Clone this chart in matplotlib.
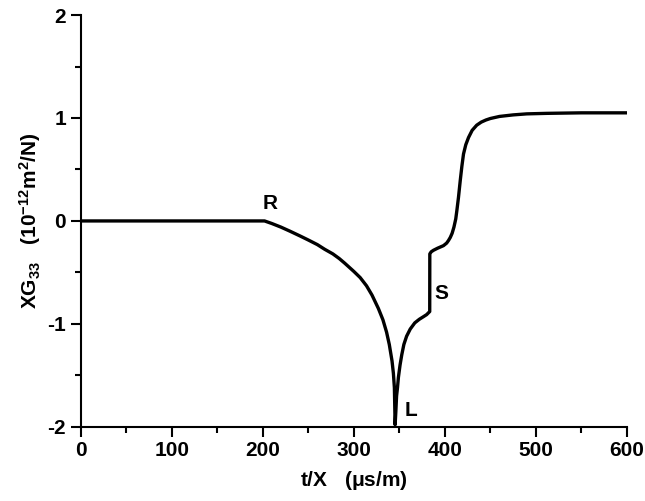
import numpy as np
import matplotlib
matplotlib.use("Agg")
import matplotlib.pyplot as plt
from matplotlib.ticker import MultipleLocator

plt.rcParams['font.family'] = ['Liberation Sans', 'DejaVu Sans']
plt.rcParams['font.weight'] = 'bold'
plt.rcParams['mathtext.fontset'] = 'custom'
plt.rcParams['mathtext.rm'] = 'Liberation Sans:bold'
plt.rcParams['mathtext.bf'] = 'Liberation Sans:bold'
plt.rcParams['mathtext.default'] = 'bf'
plt.rcParams['axes.unicode_minus'] = False

# values
t_x = [0, 100, 202, 210, 220, 230, 241, 250, 260, 268, 277, 284, 290, 295, 300, 307, 314,
       320, 327, 332, 336, 339, 342, 343.5, 344.6, 345.4,
       346.2, 347, 348, 349, 350.8, 352.7, 355, 358, 362, 367, 372, 376.5, 380, 383.4,
       383.5, 385, 387.5, 392, 398.5, 402, 404, 406, 408, 410, 412, 413.2, 415,
       416.9, 418.7, 420.5, 423, 426, 430, 435, 440, 445, 450,
       460, 475, 490, 512, 550, 600]
xg33 = [0, 0, 0, -0.025, -0.06, -0.1, -0.146, -0.185, -0.23, -0.275, -0.32, -0.365, -0.41,
        -0.45, -0.49, -0.55, -0.63, -0.72, -0.85, -0.96, -1.08, -1.2, -1.36, -1.48, -1.62, -1.98,
        -1.85, -1.7, -1.62, -1.52, -1.4, -1.3, -1.2, -1.12, -1.05, -0.99, -0.955, -0.93, -0.91, -0.88,
        -0.32, -0.3, -0.285, -0.265, -0.24, -0.215, -0.19, -0.16, -0.12, -0.06, 0.02, 0.1, 0.23,
        0.39, 0.53, 0.65, 0.74, 0.81, 0.88, 0.93, 0.96, 0.98, 0.995,
        1.015, 1.03, 1.04, 1.045, 1.05, 1.05]

labels = ['R', 'S', 'L']
label_x = [208, 396, 363]
label_y = [0.17, -0.70, -1.84]

fig = plt.figure(figsize=(6.45, 5.01), dpi=100)
ax = fig.add_axes([0.125, 0.148, 0.847, 0.822])
ax.plot(t_x, xg33, color='black', lw=2.4, solid_joinstyle='round')

for lab, lx, ly in zip(labels, label_x, label_y):
    ax.text(lx, ly, lab, fontsize=15, fontweight='bold', ha='center', va='center')

ax.set_xlim(0, 600)
ax.set_ylim(-2, 2)
ax.xaxis.set_major_locator(MultipleLocator(100))
ax.xaxis.set_minor_locator(MultipleLocator(50))
ax.yaxis.set_major_locator(MultipleLocator(1))
ax.yaxis.set_minor_locator(MultipleLocator(0.5))
ax.tick_params(which='major', direction='out', length=7, width=1.5, labelsize=15)
ax.tick_params(which='minor', direction='out', length=4, width=1.5)
for lbl in ax.get_xticklabels() + ax.get_yticklabels():
    lbl.set_fontweight('bold')
for side in ['top', 'right']:
    ax.spines[side].set_visible(False)
for side in ['left', 'bottom']:
    ax.spines[side].set_linewidth(1.5)

ax.set_xlabel(r't/X   ($\mu$s/m)', fontsize=15, fontweight='bold', labelpad=6)
ax.set_ylabel(r'XG$_{33}$   (10$^{-12}$m$^{2}$/N)', fontsize=15, fontweight='bold', labelpad=3)

fig.savefig('out.png', dpi=100)
